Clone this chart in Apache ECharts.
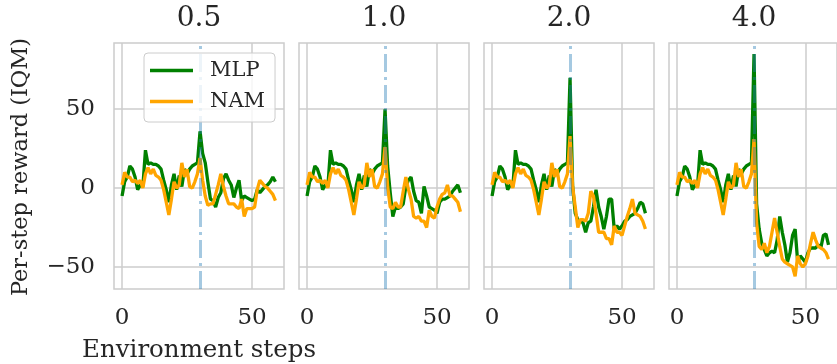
<!DOCTYPE html>
<html>
<head>
<meta charset="utf-8">
<script src="https://cdn.jsdelivr.net/npm/echarts@6/dist/echarts.min.js"></script>
<style>
html, body { margin: 0; padding: 0; background: #fff; }
#chart { width: 837px; height: 364px; }
</style>
</head>
<body>
<div id="chart"></div>
<script>
// panel titles (perturbation scale)
var panelTitles = ['0.5', '1.0', '2.0', '4.0'];
var perturbStep = 30;

// steps 0..29 are the same in every panel
var mlpHead = [-5, 4, 7, 14, 12, 7, -1, 2, 1, 24, 15, 16, 15, 15, 14, 12, 5, -1, -9, 2, 9, -1, 8, 1, 12, 9, 12, 14, 15, 16];
var namHead = [2, 10, 7, 7, 4, 5, 3, 5, 0, 9, 13, 9, 12, 8, 7, 5, -1, -9, -17, -7, 4, 0, 2, 16, 7, 12, 1, 0, 4, 9];

// steps 30..59, one list per panel
var mlpTail05 = [36, 22, 16, 4, -7, -8, -12, -6, -3, 6, 9, 5, 2, -6, 0, 5, -8, -5, -6, -7, -8, -7, -1, -3, -1, 1, 2, 4, 7, 4];
var namTail05 = [19, 5, -5, -11, -10, -10, -4, 2, 9, 1, -5, -10, -10, -10, -12, -13, -7, -18, -13, -13, -13, -12, -1, 5, 3, 1, 0, -2, -4, -8];
var mlpTail10 = [50, 14, -3, -18, -12, -13, -12, -10, 1, 5, 7, -2, -8, -9, -16, 1, -5, -12, -13, -14, -16, -9, -7, -7, -6, -5, -2, 0, 2, -3];
var namTail10 = [26, 1, -12, -13, -9, -12, -12, -2, 7, -1, -7, -18, -19, -18, -21, -21, -25, -14, -18, -19, -12, -7, -4, -3, 2, -5, -5, -7, -9, -15];
var mlpTail20 = [70, 1, -16, -20, -21, -22, -28, -22, -21, -12, -1, -12, -18, -26, -18, -7, -7, -26, -24, -26, -24, -21, -20, -18, -17, -16, -13, -9, -10, -16];
var namTail20 = [33, 1, -12, -25, -20, -20, -21, -16, -2, -5, -16, -28, -28, -28, -32, -32, -36, -24, -28, -28, -30, -24, -18, -13, -7, -16, -17, -18, -21, -26];
var mlpTail40 = [85, -10, -26, -35, -39, -43, -41, -40, -41, -33, -18, -28, -36, -47, -41, -30, -26, -47, -43, -45, -47, -41, -38, -38, -38, -36, -38, -30, -29, -36];
var namTail40 = [31, -22, -37, -39, -35, -41, -37, -28, -19, -28, -37, -45, -47, -48, -49, -50, -56, -43, -48, -50, -48, -43, -35, -28, -33, -37, -38, -39, -41, -45];

var mlpTails = [mlpTail05, mlpTail10, mlpTail20, mlpTail40];
var namTails = [namTail05, namTail10, namTail20, namTail40];

var xTicks = [0, 50];
var yTicks = [-50, 0, 50];

(function () {
    var myChart = echarts.init(document.getElementById('chart'));
    var font = 'DejaVu Serif';
    var textColor = '#262626';
    var gridColor = '#cccccc';

    function pairs(vals) {
        return vals.map(function (v, i) { return [i, v]; });
    }
    function fmt(v) {
        return v < 0 ? '\u2212' + Math.abs(v) : String(v);
    }

    var grids = [], xAxes = [], yAxes = [], series = [], graphics = [];
    var left0 = 114, step = 185, w = 170;

    panelTitles.forEach(function (t, k) {
        var left = left0 + k * step;
        grids.push({
            left: left, top: 43, width: w, height: 246,
            show: true, borderColor: gridColor, borderWidth: 1.5, backgroundColor: '#fff'
        });
        xAxes.push({
            type: 'value', gridIndex: k, min: -3.1, max: 62.3,
            axisLine: { show: false },
            axisTick: { show: false, customValues: xTicks },
            axisLabel: {
                customValues: xTicks, margin: 18,
                fontFamily: font, fontSize: 23, color: textColor
            },
            splitLine: { show: true, lineStyle: { color: gridColor, width: 1.5 } }
        });
        yAxes.push({
            type: 'value', gridIndex: k, min: -64, max: 92,
            axisLine: { show: false },
            axisTick: { show: false, customValues: yTicks },
            axisLabel: {
                show: k === 0, customValues: yTicks, margin: 19,
                fontFamily: font, fontSize: 23, color: textColor,
                formatter: fmt
            },
            splitLine: { show: true, lineStyle: { color: gridColor, width: 1.5 } }
        });
        series.push({
            name: 'MLP', type: 'line', xAxisIndex: k, yAxisIndex: k,
            data: pairs(mlpHead.concat(mlpTails[k])),
            showSymbol: false, z: 2,
            lineStyle: { color: '#008000', width: 3.3 },
            itemStyle: { color: '#008000' }
        });
        series.push({
            name: 'NAM', type: 'line', xAxisIndex: k, yAxisIndex: k,
            data: pairs(namHead.concat(namTails[k])),
            showSymbol: false, z: 3,
            lineStyle: { color: '#FFA500', width: 3.3 },
            itemStyle: { color: '#FFA500' },
            markLine: {
                silent: true, symbol: 'none', z: 4,
                label: { show: false },
                lineStyle: { color: 'rgba(31,119,180,0.4)', width: 3, type: [18, 5, 3, 5] },
                data: [{ xAxis: perturbStep }]
            }
        });
        graphics.push({
            type: 'text', x: left + w / 2, y: 19,
            style: {
                text: t, font: '28px "DejaVu Serif"', fill: textColor,
                textAlign: 'center', textVerticalAlign: 'middle'
            }
        });
    });

    graphics.push({
        type: 'text', x: 21, y: 167, rotation: Math.PI / 2,
        style: {
            text: 'Per-step reward (IQM)', font: '22.5px "DejaVu Serif"', fill: textColor,
            textAlign: 'center', textVerticalAlign: 'middle'
        }
    });
    graphics.push({
        type: 'text', x: 199, y: 351,
        style: {
            text: 'Environment steps', font: '24.5px "DejaVu Serif"', fill: textColor,
            textAlign: 'center', textVerticalAlign: 'middle'
        }
    });

    var option = {
        animation: false,
        backgroundColor: '#fff',
        grid: grids,
        xAxis: xAxes,
        yAxis: yAxes,
        legend: {
            data: ['MLP', 'NAM'],
            orient: 'vertical', left: 144, top: 53,
            padding: [7, 10, 10, 6], itemGap: 10,
            icon: 'rect', itemWidth: 43, itemHeight: 3.5,
            backgroundColor: 'rgba(255,255,255,0.8)',
            borderColor: gridColor, borderWidth: 1, borderRadius: 4,
            z: 10,
            textStyle: {
                fontFamily: font, fontSize: 21, lineHeight: 20, color: textColor,
                padding: [0, 0, 0, 12]
            }
        },
        graphic: graphics,
        series: series
    };

    myChart.setOption(option);

    window.addEventListener('resize', function () {
        myChart.resize();
    });
})();
</script>
</body>
</html>
